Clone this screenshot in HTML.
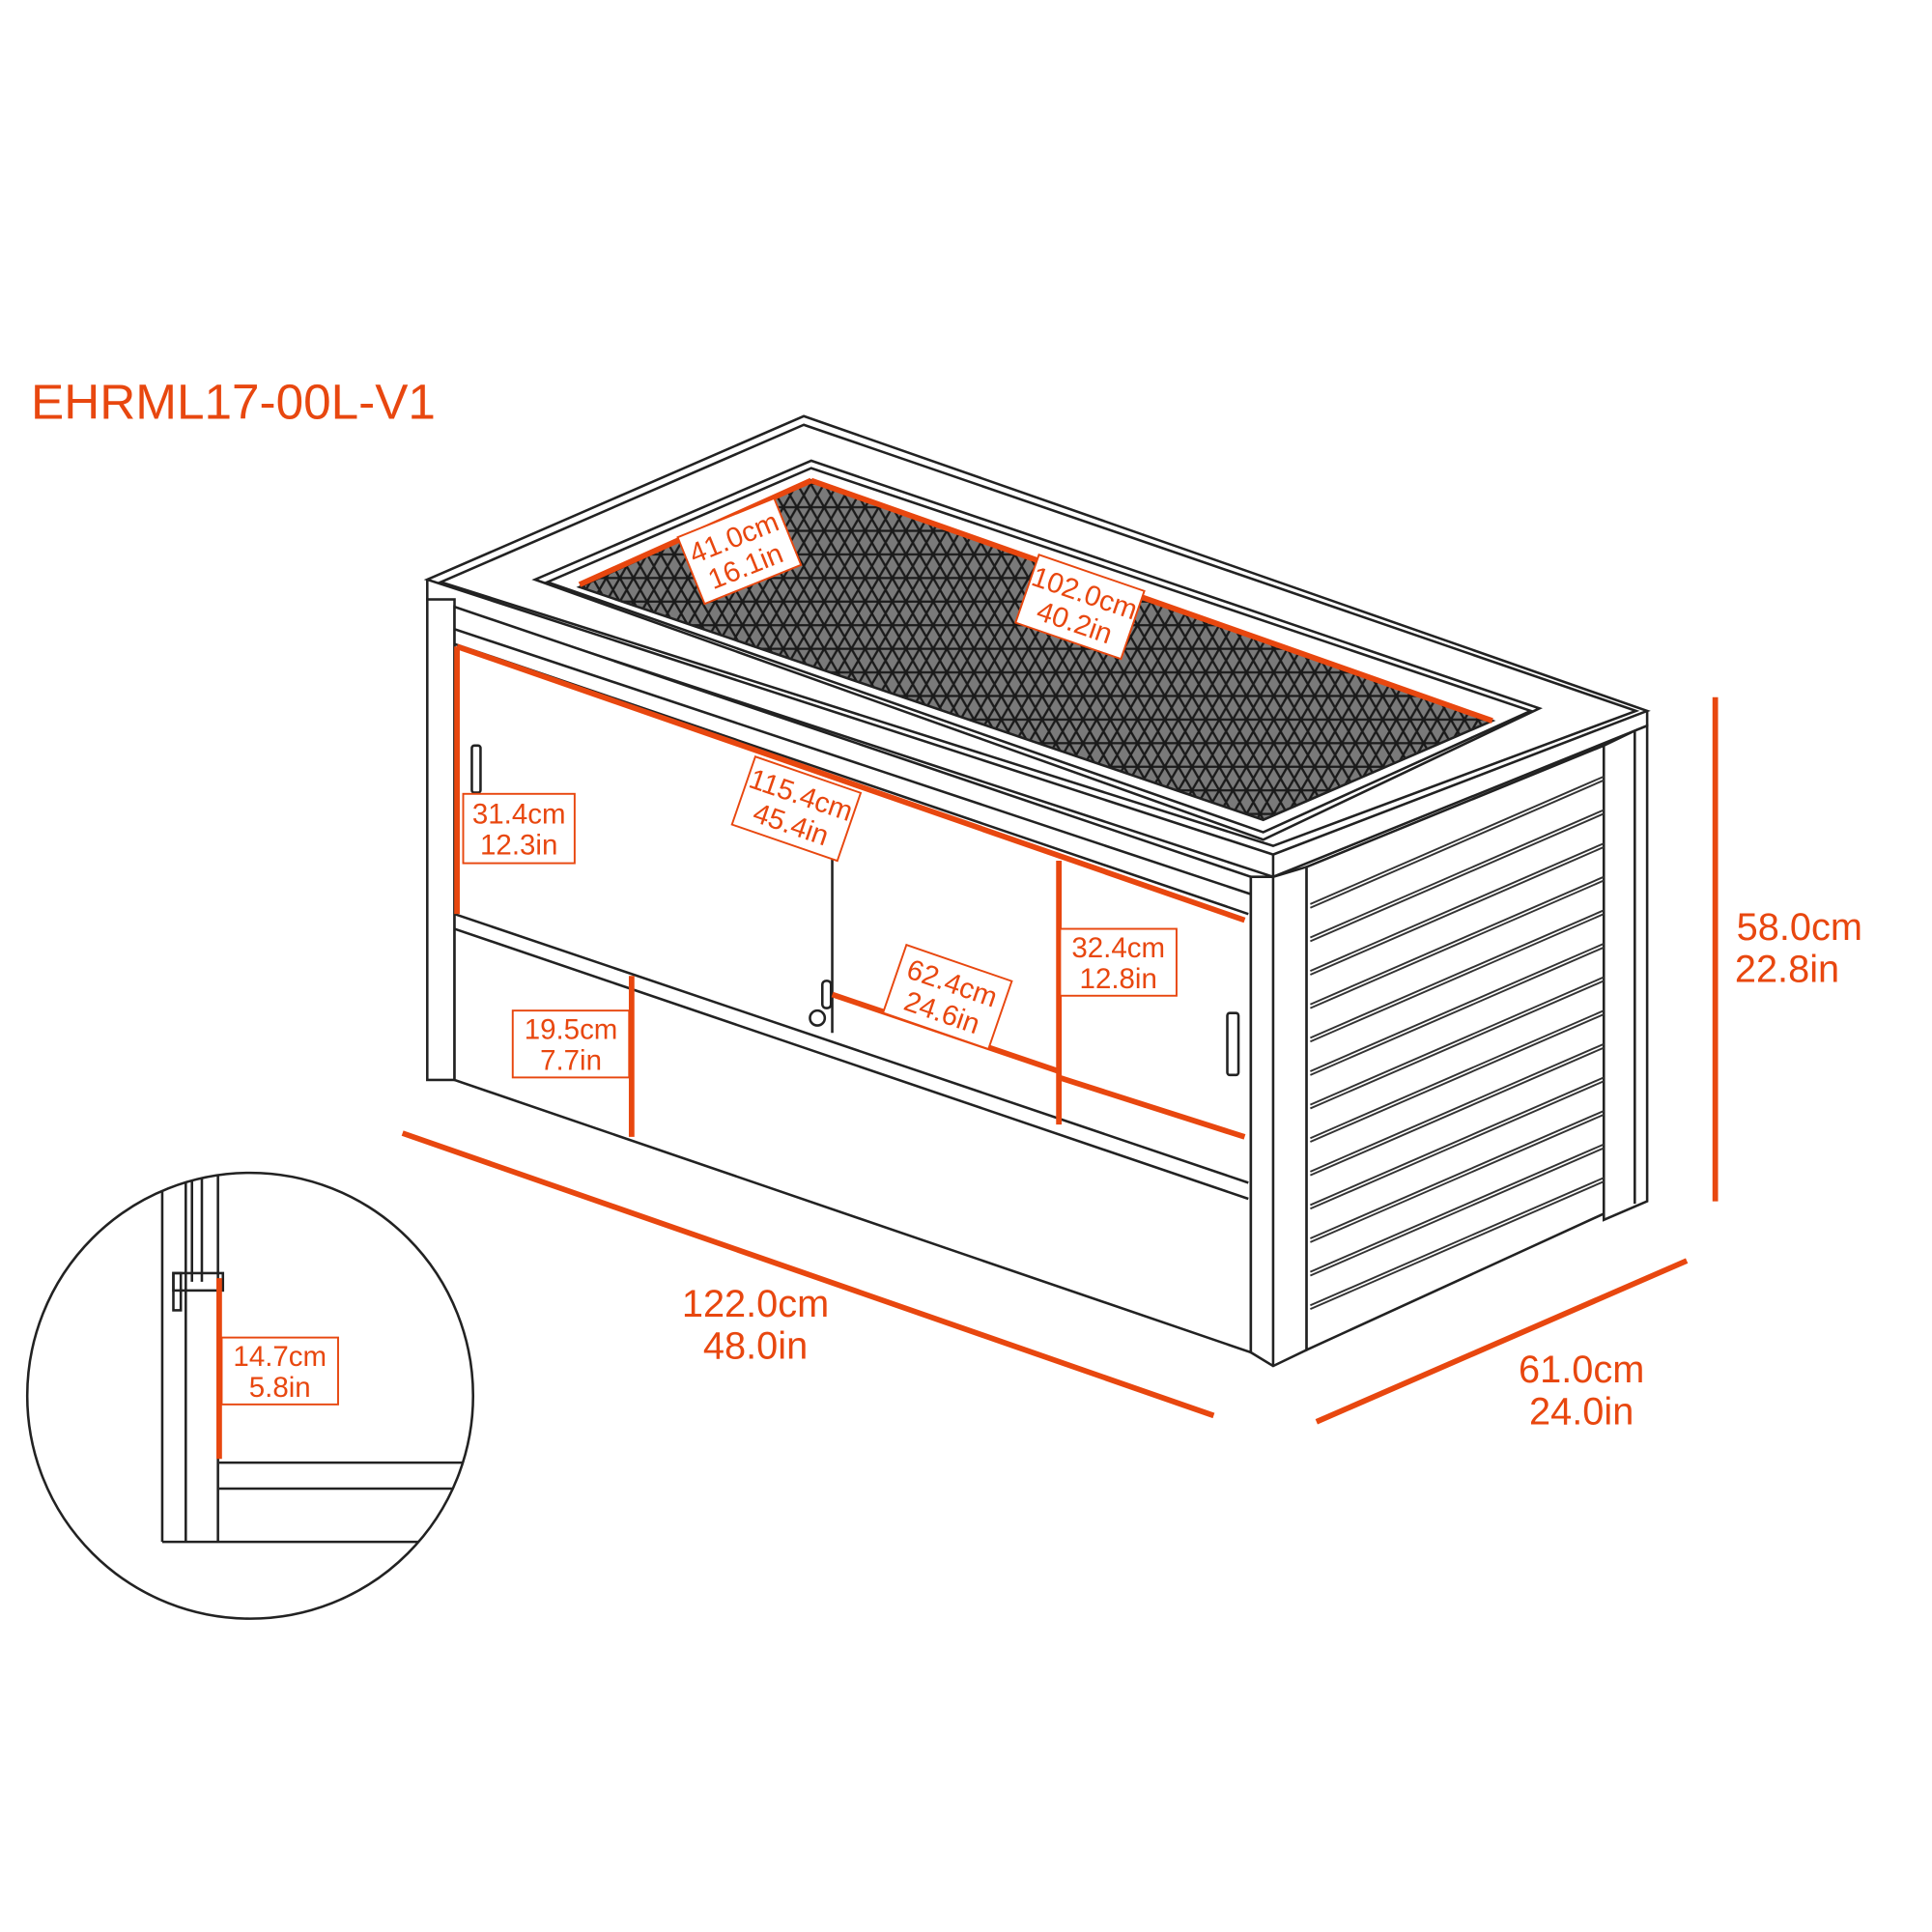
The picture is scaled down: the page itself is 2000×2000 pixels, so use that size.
<!DOCTYPE html>
<html><head><meta charset="utf-8"><style>
html,body{margin:0;padding:0;background:#fff}
svg{display:block}
text{font-family:"Liberation Sans",sans-serif;fill:#E8470F}
</style></head><body>
<svg width="2000" height="2000" viewBox="0 0 1560 1560" xmlns="http://www.w3.org/2000/svg">
<defs>
<pattern id="mesh" width="11" height="19.05" patternUnits="userSpaceOnUse">
<rect width="11" height="19.05" fill="#7a7a7a"/>
<path d="M0 0 L11 19.05 M11 0 L0 19.05 M-5.5 9.52 L0 19.05 M5.5 -9.5 L16.5 9.52 M0 0 L-5.5 9.52 M11 19.05 L16.5 9.52 M0 9.52 H11" stroke="#1a1a1a" stroke-width="1.8" fill="none"/>
</pattern>
<clipPath id="cc"><circle cx="202" cy="1127" r="180"/></clipPath>
</defs>
<g fill="none" stroke="#222" stroke-width="2">
<polygon points="649,336 345,468 1028,690 1330,574" fill="#fff"/>
<polygon points="649,343 356,470 1028,683 1321,574"/>
<polyline points="345,468 345,484 1028,708 1330,586 1330,574"/>
<line x1="1028" y1="690" x2="1028" y2="708"/>
<polygon points="655,372 432,468 1020,678 1243,572"/>
<polygon points="655,378 442,470 1020,672 1236,574"/>
<polygon points="655,388 468,474 1020,662 1205,582" fill="url(#mesh)"/>
<rect x="345" y="484" width="22" height="388" fill="#fff"/>
<polygon points="367,490 367,872 1010,1092 1010,708" fill="#fff"/>
<line x1="367" y1="508" x2="1010" y2="722"/>
<line x1="367" y1="520" x2="1008" y2="738"/>
<line x1="367" y1="738" x2="1008" y2="955"/>
<line x1="367" y1="750" x2="1008" y2="968"/>
<line x1="672" y1="690" x2="672" y2="834"/>
<rect x="381" y="602" width="7" height="38" rx="2"/>
<rect x="991" y="818" width="9" height="50" rx="2"/>
<rect x="664" y="792" width="7" height="22" rx="3"/>
<circle cx="660" cy="822" r="6" fill="#fff"/>
<polygon points="1010,708 1028,708 1055,700 1055,1090 1028,1103 1010,1092" fill="#fff"/>
<line x1="1028" y1="708" x2="1028" y2="1103"/>
<polygon points="1055,700 1295,602 1295,980 1055,1090" fill="#fff"/>
<polygon points="1295,602 1320,590 1330,586 1330,970 1295,985" fill="#fff"/>
<line x1="1320" y1="590" x2="1320" y2="972"/>
</g>
<g stroke="#333" stroke-width="1.5" fill="none">
<line x1="1058" y1="730" x2="1295" y2="627"/><line x1="1058" y1="733" x2="1295" y2="630"/>
<line x1="1058" y1="757" x2="1295" y2="654"/><line x1="1058" y1="760" x2="1295" y2="657"/>
<line x1="1058" y1="784" x2="1295" y2="681"/><line x1="1058" y1="787" x2="1295" y2="684"/>
<line x1="1058" y1="811" x2="1295" y2="708"/><line x1="1058" y1="814" x2="1295" y2="711"/>
<line x1="1058" y1="838" x2="1295" y2="735"/><line x1="1058" y1="841" x2="1295" y2="738"/>
<line x1="1058" y1="865" x2="1295" y2="762"/><line x1="1058" y1="868" x2="1295" y2="765"/>
<line x1="1058" y1="892" x2="1295" y2="789"/><line x1="1058" y1="895" x2="1295" y2="792"/>
<line x1="1058" y1="919" x2="1295" y2="816"/><line x1="1058" y1="922" x2="1295" y2="819"/>
<line x1="1058" y1="946" x2="1295" y2="843"/><line x1="1058" y1="949" x2="1295" y2="846"/>
<line x1="1058" y1="973" x2="1295" y2="870"/><line x1="1058" y1="976" x2="1295" y2="873"/>
<line x1="1058" y1="1000" x2="1295" y2="897"/><line x1="1058" y1="1003" x2="1295" y2="900"/>
<line x1="1058" y1="1027" x2="1295" y2="924"/><line x1="1058" y1="1030" x2="1295" y2="927"/>
<line x1="1058" y1="1054" x2="1295" y2="951"/><line x1="1058" y1="1057" x2="1295" y2="954"/>
</g>
<circle cx="202" cy="1127" r="180" fill="#fff" stroke="#222" stroke-width="2"/>
<g clip-path="url(#cc)" stroke="#222" stroke-width="2" fill="none">
<line x1="131" y1="940" x2="131" y2="1245"/>
<line x1="150" y1="940" x2="150" y2="1245"/>
<line x1="155" y1="940" x2="155" y2="1035"/>
<line x1="163" y1="940" x2="163" y2="1035"/>
<line x1="176" y1="940" x2="176" y2="1245"/>
<rect x="140" y="1028" width="40" height="14"/>
<rect x="140" y="1028" width="6" height="30"/>
<line x1="177" y1="1181" x2="400" y2="1181"/>
<line x1="177" y1="1202" x2="400" y2="1202"/>
<line x1="131" y1="1245" x2="400" y2="1245"/>
</g>
<g stroke="#E8470F" stroke-width="4.5" fill="none">
<line x1="369" y1="522" x2="369" y2="738"/>
<line x1="369" y1="522" x2="1005" y2="743"/>
<line x1="510" y1="788" x2="510" y2="918"/>
<line x1="855" y1="695" x2="855" y2="908"/>
<line x1="672" y1="803" x2="855" y2="865"/>
<line x1="855" y1="870" x2="1005" y2="918"/>
<line x1="655" y1="388" x2="468" y2="472"/>
<line x1="655" y1="388" x2="1205" y2="582"/>
<line x1="1385" y1="563" x2="1385" y2="970"/>
<line x1="325" y1="915" x2="980" y2="1143"/>
<line x1="1063" y1="1148" x2="1362" y2="1018"/>
<line x1="177" y1="1032" x2="177" y2="1178"/>
</g>
<g font-size="23">
<g transform="translate(597,445) rotate(-22)"><rect x="-42" y="-29" width="84" height="58" fill="#fff" stroke="#E8470F" stroke-width="1.5"/><text x="0" y="-4" text-anchor="middle">41.0cm</text><text x="0" y="21" text-anchor="middle">16.1in</text></g>
<g transform="translate(872,490) rotate(19)"><rect x="-45" y="-29" width="90" height="58" fill="#fff" stroke="#E8470F" stroke-width="1.5"/><text x="0" y="-4" text-anchor="middle">102.0cm</text><text x="0" y="21" text-anchor="middle">40.2in</text></g>
<g transform="translate(643,653) rotate(19)"><rect x="-45" y="-29" width="90" height="58" fill="#fff" stroke="#E8470F" stroke-width="1.5"/><text x="0" y="-4" text-anchor="middle">115.4cm</text><text x="0" y="21" text-anchor="middle">45.4in</text></g>
<g transform="translate(765,805) rotate(19)"><rect x="-45" y="-29" width="90" height="58" fill="#fff" stroke="#E8470F" stroke-width="1.5"/><text x="0" y="-4" text-anchor="middle">62.4cm</text><text x="0" y="21" text-anchor="middle">24.6in</text></g>
<g transform="translate(419,669)"><rect x="-45" y="-28" width="90" height="56" fill="#fff" stroke="#E8470F" stroke-width="1.5"/><text x="0" y="-4" text-anchor="middle">31.4cm</text><text x="0" y="21" text-anchor="middle">12.3in</text></g>
<g transform="translate(903,777)"><rect x="-47" y="-27" width="94" height="54" fill="#fff" stroke="#E8470F" stroke-width="1.5"/><text x="0" y="-4" text-anchor="middle">32.4cm</text><text x="0" y="21" text-anchor="middle">12.8in</text></g>
<g transform="translate(461,843)"><rect x="-47" y="-27" width="94" height="54" fill="#fff" stroke="#E8470F" stroke-width="1.5"/><text x="0" y="-4" text-anchor="middle">19.5cm</text><text x="0" y="21" text-anchor="middle">7.7in</text></g>
<g transform="translate(226,1107)"><rect x="-47" y="-27" width="94" height="54" fill="#fff" stroke="#E8470F" stroke-width="1.5"/><text x="0" y="-4" text-anchor="middle">14.7cm</text><text x="0" y="21" text-anchor="middle">5.8in</text></g>
</g>
<g font-size="31">
<text x="25" y="338" font-size="40">EHRML17-00L-V1</text>
<text x="1453" y="759" text-anchor="middle">58.0cm</text>
<text x="1443" y="793" text-anchor="middle">22.8in</text>
<text x="610" y="1063" text-anchor="middle">122.0cm</text>
<text x="610" y="1097" text-anchor="middle">48.0in</text>
<text x="1277" y="1116" text-anchor="middle">61.0cm</text>
<text x="1277" y="1150" text-anchor="middle">24.0in</text>
</g>
</svg>
</body></html>
